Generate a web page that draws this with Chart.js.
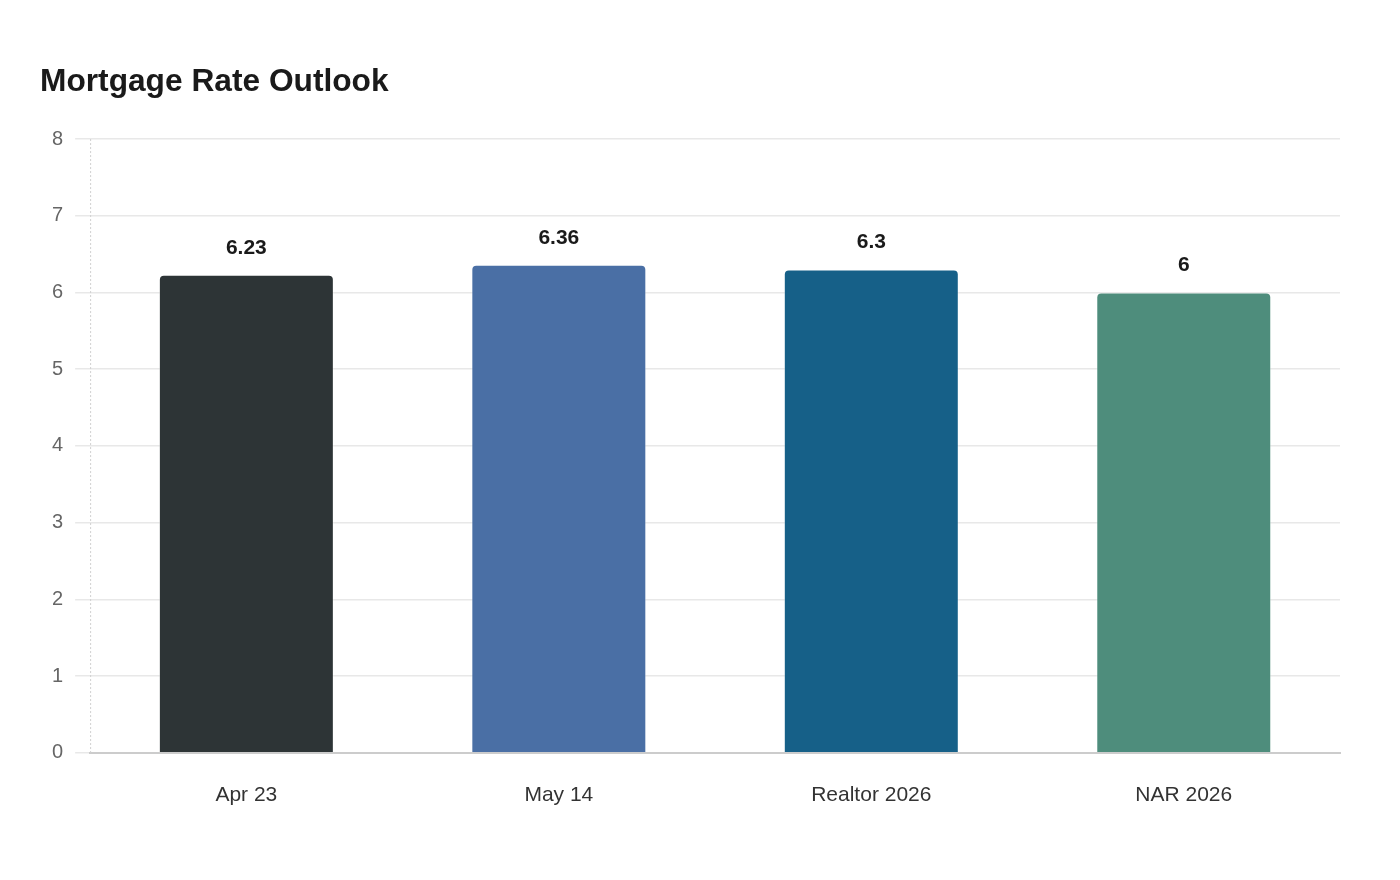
<!DOCTYPE html>
<html>
<head>
<meta charset="utf-8">
<title>Mortgage Rate Outlook</title>
<script src="https://cdn.jsdelivr.net/npm/chart.js@4"></script>
<style>
  html, body { margin: 0; padding: 0; background: #ffffff; }
  #wrap { width: 1400px; height: 880px; }
</style>
</head>
<body>
<div id="wrap"><canvas id="chart"></canvas></div>
<script>
const categories = ["Apr 23", "May 14", "Realtor 2026", "NAR 2026"];
const rates = [6.23, 6.36, 6.3, 6];
const barColors = ["#2d3436", "#4a6fa5", "#166088", "#4e8d7c"];
const yTicks = [0, 1, 2, 3, 4, 5, 6, 7, 8];

const FONT = "'Liberation Sans', Arial, sans-serif";

// values above the bars + dotted y axis line
const extras = {
  id: "extras",
  afterDatasetsDraw(chart) {
    const ctx = chart.ctx;
    const area = chart.chartArea;
    ctx.save();
    ctx.strokeStyle = "#d0d0d0";
    ctx.lineWidth = 1;
    ctx.setLineDash([2, 2]);
    ctx.beginPath();
    ctx.moveTo(area.left + 0.5, area.top);
    ctx.lineTo(area.left + 0.5, area.bottom);
    ctx.stroke();
    ctx.setLineDash([]);

    const meta = chart.getDatasetMeta(0);
    ctx.font = "bold 21px " + FONT;
    ctx.fillStyle = "#1a1a1a";
    ctx.textAlign = "center";
    ctx.textBaseline = "middle";
    meta.data.forEach((bar, i) => {
      ctx.fillText(String(rates[i]), bar.x, bar.y - 27);
    });
    ctx.restore();
  }
};

new Chart(document.getElementById("chart").getContext("2d"), {
  type: "bar",
  data: {
    labels: categories,
    datasets: [{
      label: "Rate",
      data: rates,
      backgroundColor: barColors,
      borderColor: "rgba(255,255,255,0.35)",
      borderWidth: 1,
      borderRadius: { topLeft: 5, topRight: 5 },
      borderSkipped: "bottom",
      categoryPercentage: 0.7,
      barPercentage: 0.8
    }]
  },
  options: {
    responsive: true,
    maintainAspectRatio: false,
    animation: false,
    layout: { padding: { left: 40, right: 60, top: 63, bottom: 42 } },
    plugins: {
      legend: { display: false },
      tooltip: { enabled: false },
      title: {
        display: true,
        text: "Mortgage Rate Outlook",
        align: "start",
        color: "#1a1a1a",
        font: { family: FONT, size: 31.7, weight: "bold" },
        padding: { top: 0, bottom: 38 }
      }
    },
    scales: {
      y: {
        min: yTicks[0],
        max: yTicks[yTicks.length - 1],
        afterBuildTicks: axis => { axis.ticks = yTicks.map(v => ({ value: v })); },
        ticks: {
          color: "#666666",
          padding: 12,
          font: { family: FONT, size: 20 }
        },
        grid: { color: "#e8e8e8", lineWidth: 1.5, tickLength: 15 },
        border: { display: false }
      },
      x: {
        ticks: {
          color: "#333333",
          padding: 30,
          font: { family: FONT, size: 21 }
        },
        grid: { display: false, drawTicks: false },
        border: { display: true, color: "#cccccc", width: 2 }
      }
    }
  },
  plugins: [extras]
});
</script>
</body>
</html>
